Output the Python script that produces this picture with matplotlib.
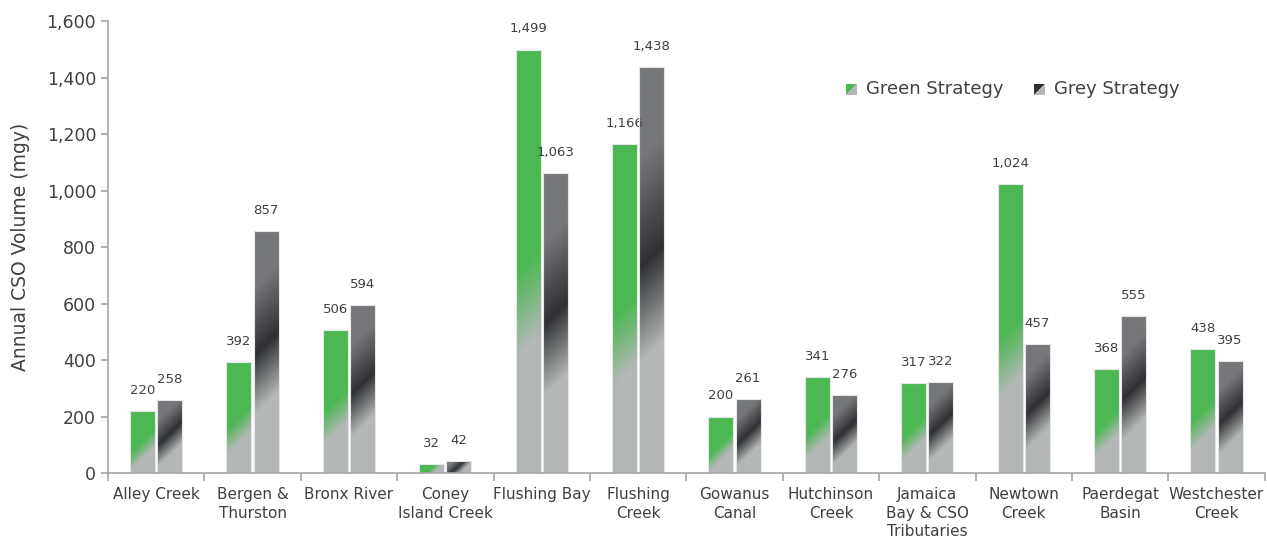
import numpy as np
import matplotlib.pyplot as plt
from matplotlib.colors import to_rgb
from matplotlib.patches import Polygon
from matplotlib.legend_handler import HandlerBase

# annual CSO volume per waterbody (mgy)
sites = ['Alley Creek', 'Bergen &\nThurston', 'Bronx River', 'Coney\nIsland Creek',
         'Flushing Bay', 'Flushing\nCreek', 'Gowanus\nCanal', 'Hutchinson\nCreek',
         'Jamaica\nBay & CSO\nTributaries', 'Newtown\nCreek', 'Paerdegat\nBasin',
         'Westchester\nCreek']
green = [220, 392, 506, 32, 1499, 1166, 200, 341, 317, 1024, 368, 438]
grey = [258, 857, 594, 42, 1063, 1438, 261, 276, 322, 457, 555, 395]

# gradient stops (position along the diagonal, colour)
green_stops = [(0.0, '#4cb853'), (0.5, '#4cb853'), (0.69, '#b4b7b7'), (1.0, '#b4b7b7')]
grey_stops = [(0.0, '#75777a'), (0.22, '#75777a'), (0.47, '#2e3033'),
              (0.69, '#b4b7b7'), (1.0, '#b4b7b7')]

txt = '#404040'
axis_c = '#a6a6a6'

fig = plt.figure(figsize=(12.67, 5.4), dpi=100)
ax = fig.add_axes([0.0852, 0.124, 0.913, 0.837])
ax.set_xlim(-0.5, len(sites) - 0.5)
ax.set_ylim(0, 1600)

fig_w_px = 1267 * 0.913
fig_h_px = 540 * 0.837
px_per_x = fig_w_px / len(sites)
px_per_y = fig_h_px / 1600


def gradient_img(w_px, h_px, stops):
    nx = max(int(round(w_px)), 2)
    ny = max(int(round(h_px)), 2)
    X, Y = np.meshgrid(np.arange(nx) + 0.5, np.arange(ny) + 0.5)
    t = (X + Y) / (nx + ny)
    pos = [s[0] for s in stops]
    cols = np.array([to_rgb(s[1]) for s in stops])
    img = np.zeros((ny, nx, 3))
    for c in range(3):
        img[..., c] = np.interp(t, pos, cols[:, c])
    return img


width = 0.26
off = 0.141
x = np.arange(len(sites))

for vals, shift, stops in [(green, -off, green_stops), (grey, off, grey_stops)]:
    bars = ax.bar(x + shift, vals, width, facecolor='none', edgecolor='#e6e6e6',
                  linewidth=0.8, zorder=3)
    for b, v in zip(bars, vals):
        x0 = b.get_x()
        img = gradient_img(width * px_per_x, v * px_per_y, stops)
        im = ax.imshow(img, extent=[x0, x0 + width, 0, v], origin='upper',
                       aspect='auto', interpolation='bilinear', zorder=2)
        im.set_clip_path(b)
        ax.text(x0 + width / 2, v + 50, f'{v:,}', ha='center', va='bottom',
                fontsize=9.5, color=txt)

ax.set_xlim(-0.5, len(sites) - 0.5)
ax.set_ylim(0, 1600)

# axes styling
for s in ['top', 'right']:
    ax.spines[s].set_visible(False)
for s in ['left', 'bottom']:
    ax.spines[s].set_color(axis_c)
    ax.spines[s].set_linewidth(1.2)
    ax.spines[s].set_zorder(4)

ax.set_yticks(np.arange(0, 1601, 200))
ax.set_yticklabels([f'{v:,}' for v in range(0, 1601, 200)])
ax.tick_params(axis='y', colors=axis_c, labelcolor=txt, labelsize=12.5, length=5, width=1.2)
ax.set_ylabel('Annual CSO Volume (mgy)', fontsize=13.5, color=txt, labelpad=12)

ax.set_xticks(np.arange(-0.5, len(sites), 1))
ax.set_xticklabels([])
ax.set_xticks(x, minor=True)
ax.set_xticklabels(sites, minor=True, fontsize=11, color=txt, linespacing=1.3)
ax.tick_params(axis='x', which='major', colors=axis_c, length=6, width=1.2)
ax.tick_params(axis='x', which='minor', length=0, pad=10)


class HalfSquare(HandlerBase):
    def __init__(self, col):
        super().__init__()
        self.col = col

    def create_artists(self, legend, orig, xd, yd, w, h, fs, trans):
        s = min(w, h)
        x0, y0 = xd + w - s, yd
        a = Polygon([[x0, y0], [x0, y0 + s], [x0 + s, y0 + s]], closed=True,
                    facecolor=self.col, edgecolor='none', transform=trans)
        b = Polygon([[x0, y0], [x0 + s, y0], [x0 + s, y0 + s]], closed=True,
                    facecolor='#b4b7b7', edgecolor='none', transform=trans)
        return [a, b]


h1 = Polygon([[0, 0]], label='Green Strategy')
h2 = Polygon([[0, 0]], label='Grey Strategy')
ax.legend([h1, h2], ['Green Strategy', 'Grey Strategy'],
          handler_map={h1: HalfSquare('#4cb853'), h2: HalfSquare('#2e3033')},
          loc='upper left', bbox_to_anchor=(0.624, 0.905), ncol=2, frameon=False,
          fontsize=13, labelcolor=txt, handlelength=0.6, handleheight=0.6,
          handletextpad=0.5, columnspacing=1.7)

fig.savefig('out.png', dpi=100)
